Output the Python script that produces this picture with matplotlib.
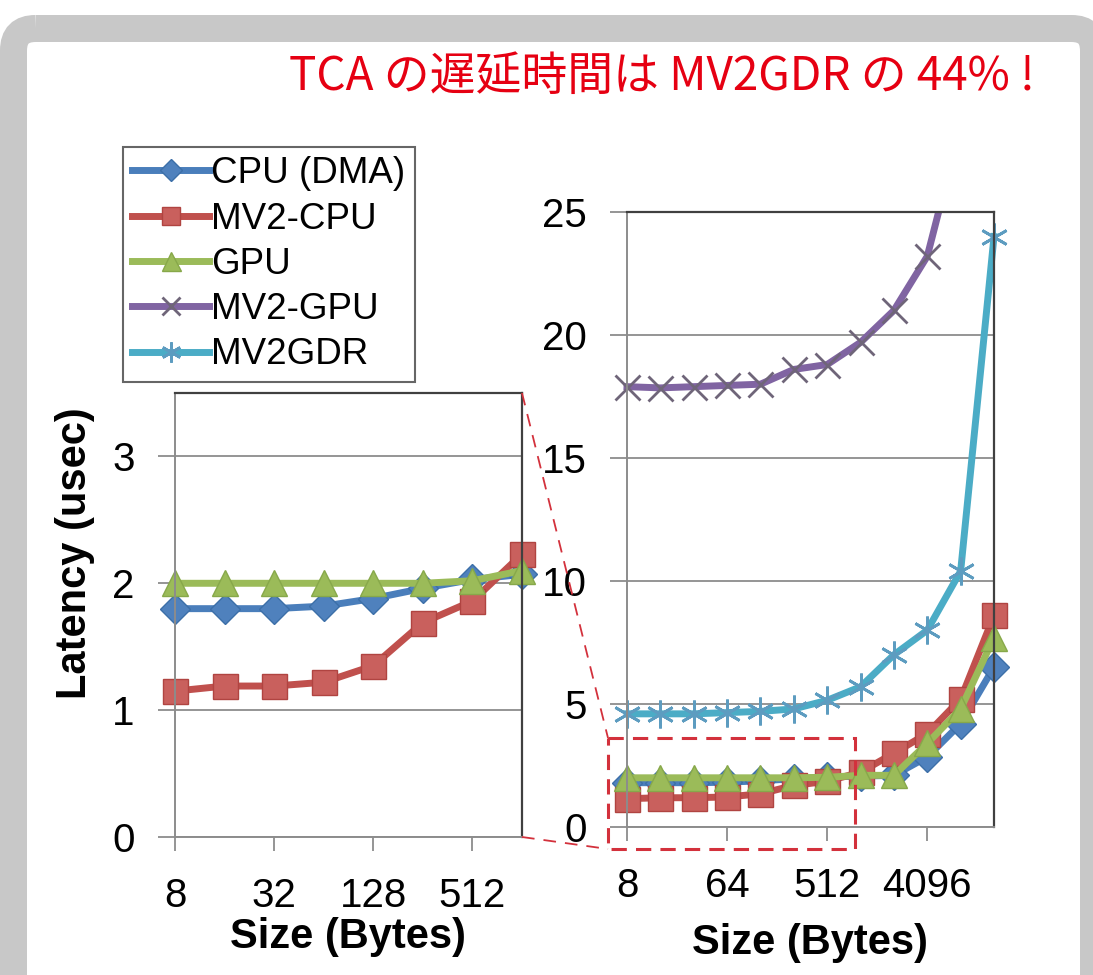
import matplotlib
matplotlib.use('Agg')
import matplotlib.pyplot as plt
from matplotlib.patches import FancyBboxPatch, Rectangle

plt.rcParams['font.family'] = ['Liberation Sans', 'DejaVu Sans']

# Data (latency in usec)
sizes = [8, 16, 32, 64, 128, 256, 512, 1024, 2048, 4096, 8192, 16384]
cpu_dma = [1.80, 1.80, 1.80, 1.82, 1.88, 1.96, 2.03, 2.07, 2.10, 2.85, 4.20, 6.50]
mv2_cpu = [1.15, 1.19, 1.19, 1.22, 1.35, 1.69, 1.86, 2.23, 3.00, 3.80, 5.20, 8.60]
gpu = [2.00, 2.00, 2.00, 2.00, 2.00, 2.00, 2.02, 2.10, 2.10, 3.40, 4.80, 7.70]
mv2_gpu = [17.9, 17.85, 17.9, 17.95, 18.0, 18.6, 18.8, 19.7, 21.0, 23.2, 28.5, 40.0]
mv2gdr = [4.6, 4.6, 4.6, 4.65, 4.7, 4.8, 5.15, 5.7, 7.0, 8.0, 10.4, 24.0]

labels = ['CPU (DMA)', 'MV2-CPU', 'GPU', 'MV2-GPU', 'MV2GDR']
values = [cpu_dma, mv2_cpu, gpu, mv2_gpu, mv2gdr]
left_ticks = [8, 32, 128, 512]
right_ticks = [8, 64, 512, 4096]
title = 'TCA の遅延時間は MV2GDR の 44% !'

styles = [
    dict(color='#4a7ebb', marker='D', ms=15, mfc='#4f81bd', mec='#3c6fa8'),
    dict(color='#c0504d', marker='s', ms=18, mfc='#c9605d', mec='#b04441'),
    dict(color='#9bbb59', marker='^', ms=19, mfc='#9bbb59', mec='#87a84a'),
    dict(color='#8064a2', marker='x', ms=18, mfc='none', mec='#6f6579', mew=2.0),
    dict(color='#4bacc6', marker=(6, 2, 0), ms=20, mfc='none', mec='#5d9cc0', mew=2.0),
]

W, H = 1093, 975
fig = plt.figure(figsize=(W / 100, H / 100), dpi=100)


def px_axes(x0, y0, x1, y1):
    return fig.add_axes([x0 / W, 1 - y1 / H, (x1 - x0) / W, (y1 - y0) / H])


axL = px_axes(175, 393, 522, 837)
axR = px_axes(627, 212, 994, 827)

for ax, n, ymax, yticks, xticks in [(axL, 8, 3.5, [0, 1, 2, 3], left_ticks),
                                     (axR, 12, 25, [0, 5, 10, 15, 20, 25], right_ticks)]:
    clip = Rectangle((-0.1, -0.1), 1.2, 1.1, transform=ax.transAxes)
    for lab, val, st in zip(labels, values, styles):
        ln, = ax.plot(sizes[:n], val[:n], lw=5, label=lab, **st)
        ln.set_clip_path(clip)
    ax.set_xscale('log', base=2)
    ax.set_xlim(sizes[0], sizes[n - 1])
    ax.set_ylim(0, ymax)
    ax.set_xticks(xticks)
    ax.set_xticklabels([str(t) for t in xticks])
    ax.minorticks_off()
    ax.set_yticks(yticks)
    ax.yaxis.grid(True, color='#8c8c8c', lw=1.3)
    ax.set_axisbelow(True)
    ax.tick_params(axis='y', labelsize=29, length=12, width=1.3, color='#8c8c8c', pad=17)
    ax.tick_params(axis='x', labelsize=29, length=10, width=1.3, color='#8c8c8c', pad=19)
    for s in ['top', 'right']:
        ax.spines[s].set_color('#404040')
        ax.spines[s].set_linewidth(1.6)
    for s in ['left', 'bottom']:
        ax.spines[s].set_color('#8c8c8c')
        ax.spines[s].set_linewidth(1.4)

handles, labs = axR.get_legend_handles_labels()
leg = fig.legend(handles, labs, loc='upper left', bbox_to_anchor=(123 / W, 1 - 147 / H),
                 fontsize=26.5, frameon=True, fancybox=False, edgecolor='#404040',
                 handlelength=2.1, handletextpad=0.05, labelspacing=0.28,
                 borderpad=0.25, borderaxespad=0, markerscale=0.72)
leg.get_frame().set_linewidth(1.5)

fig.text(348, H - 937, 'Size (Bytes)', transform=None, fontsize=30,
         fontweight='bold', ha='center', va='center')
fig.text(810, H - 943, 'Size (Bytes)', transform=None, fontsize=30,
         fontweight='bold', ha='center', va='center')
fig.text(75, H - 553, 'Latency (usec)', transform=None, fontsize=30,
         fontweight='bold', ha='center', va='center', rotation=90)
fig.text(1035, H - 90, title, transform=None, fontsize=33, color='#e60012',
         ha='right', va='baseline', family=['Noto Sans CJK JP', 'DejaVu Sans'])

# overlay: slide frame, zoom box, connectors
ov = fig.add_axes([0, 0, 1, 1], zorder=10)
ov.set_xlim(0, W)
ov.set_ylim(H, 0)
ov.axis('off')
ov.patch.set_alpha(0)
ov.add_patch(FancyBboxPatch((13.5, 28.5), 1080, 1000,
                            boxstyle='round,pad=0,rounding_size=22',
                            fill=False, ec='#c8c8c8', lw=27 * 0.72))
red = '#d3313c'
ov.add_patch(Rectangle((608, 738), 247, 111, fill=False, ec=red, lw=2.2,
                       ls=(0, (5, 3))))
ov.plot([522, 608], [393, 738], color=red, lw=1.3, ls=(0, (7, 5)))
ov.plot([522, 608], [837, 849], color=red, lw=1.3, ls=(0, (7, 5)))

fig.savefig('out.png', dpi=100)
